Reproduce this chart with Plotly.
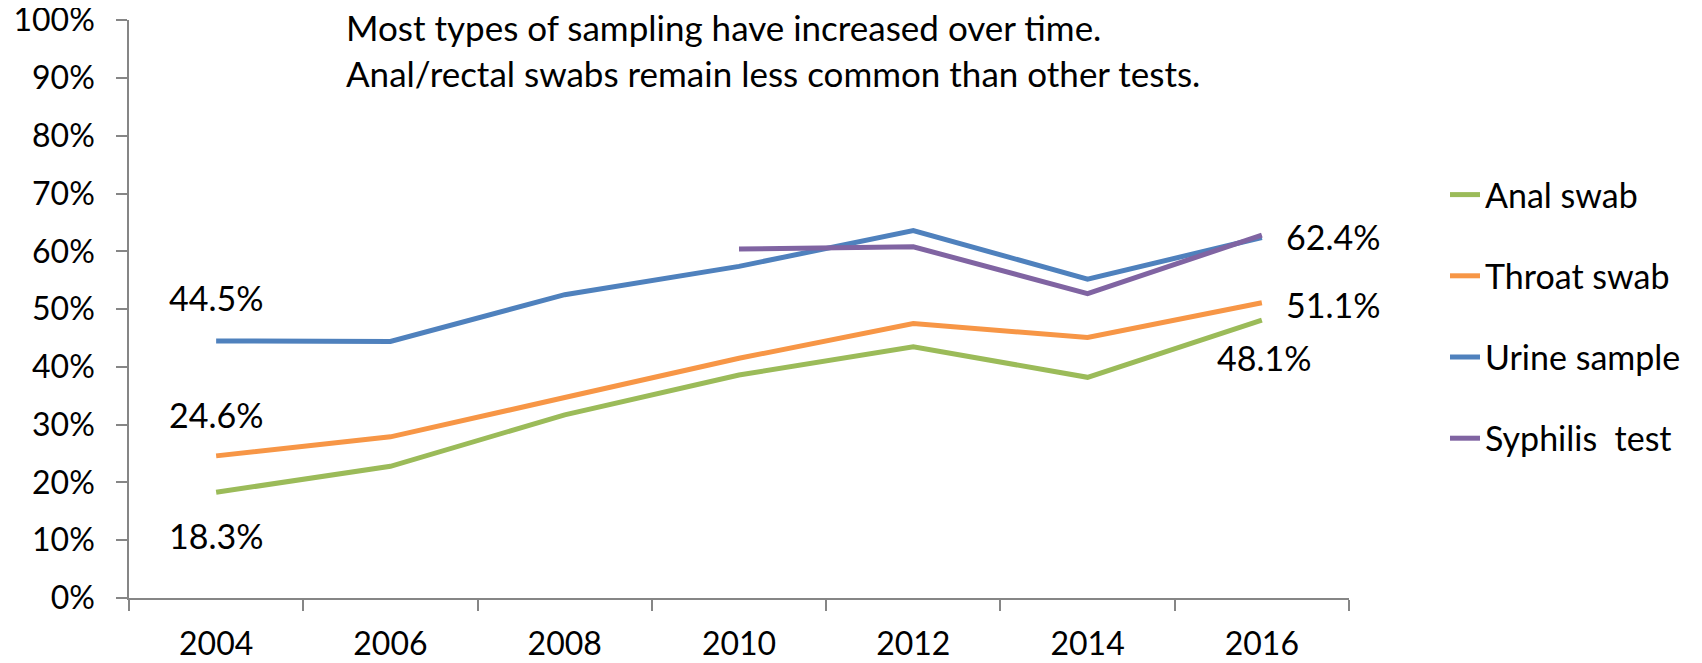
import plotly.graph_objects as go

years = ["2004", "2006", "2008", "2010", "2012", "2014", "2016"]
anal_swab = [0.183, 0.228, 0.317, 0.386, 0.435, 0.382, 0.481]
throat_swab = [0.246, 0.279, 0.347, 0.415, 0.475, 0.451, 0.511]
urine_sample = [0.445, 0.444, 0.525, 0.574, 0.636, 0.552, 0.624]
syphilis_test = [None, None, None, 0.604, 0.608, 0.527, 0.628]

series_names = ["Anal swab", "Throat swab", "Urine sample", "Syphilis\u00a0 test"]
series_values = [anal_swab, throat_swab, urine_sample, syphilis_test]
series_colors = ["#9BBB59", "#F79646", "#4F81BD", "#8064A2"]

note_lines = ["Most types of sampling have increased over time.",
              "Anal/rectal swabs remain less common than other tests."]

FONT = "Lato"
FS = 34
TICK_FS = 32
W, H = 1694, 655  # page body has an 8px margin

fig = go.Figure()
for i, (name, vals, col) in enumerate(zip(series_names, series_values, series_colors)):
    fig.add_trace(go.Scatter(
        x=years, y=vals, name=name, mode="lines",
        line=dict(color=col, width=5),
        legendgroup="g%d" % i,
        connectgaps=False,
        hoverinfo="skip",
    ))

# data labels: (series values, index, xshift, yshift, xanchor)
label_specs = [
    (urine_sample, 0, 0, 43, "center"),
    (throat_swab, 0, 0, 41, "center"),
    (anal_swab, 0, 0, -43, "center"),
    (urine_sample, 6, 22, 1, "left"),
    (throat_swab, 6, 22, -2, "left"),
    (anal_swab, 6, 2, -37, "center"),
]
for vals, idx, xs, ys, xa in label_specs:
    fig.add_annotation(
        x=idx, y=vals[idx], text="%.1f%%" % (vals[idx] * 100),
        showarrow=False, xshift=xs, yshift=ys, xanchor=xa, yanchor="middle",
        font=dict(family=FONT, size=FS, color="#000000"),
    )

fig.add_annotation(
    xref="paper", yref="paper", x=(344 - 129) / 1220, y=1.0,
    xanchor="left", yanchor="top", align="left", showarrow=False,
    text="<br>".join(note_lines),
    font=dict(family=FONT, size=35, color="#000000"),
    yshift=16,
)

fig.update_layout(
    width=W, height=H,
    margin=dict(l=121, r=353, t=12, b=65, autoexpand=False),
    paper_bgcolor="white", plot_bgcolor="white",
    font=dict(family=FONT, size=FS, color="#000000"),
    showlegend=True,
    legend=dict(
        xref="container", yref="container",
        x=1437 / W, y=1 - 158 / H, xanchor="left", yanchor="top",
        traceorder="grouped", tracegroupgap=34,
        font=dict(family=FONT, size=FS, color="#000000"),
        bgcolor="rgba(0,0,0,0)",
    ),
    xaxis=dict(
        type="category", range=[-0.5, 6.5], tickson="boundaries", ticks="outside",
        ticklen=11, tickcolor="#868686", tickwidth=1.5, showline=True,
        linecolor="#868686", linewidth=1.5, showgrid=False, zeroline=False,
        ticklabelstandoff=17, tickangle=0, ticklabeloverflow="allow",
        tickfont=dict(family=FONT, size=TICK_FS, color="#000000"),
    ),
    yaxis=dict(
        range=[0, 1.0005], tickvals=[i / 10 for i in range(11)], tickformat=".0%",
        ticks="outside", ticklen=11, ticklabeloverflow="allow",
        tickcolor="#868686", tickwidth=1.5, showline=True, linecolor="#868686",
        linewidth=1.5, showgrid=False, zeroline=False, ticklabelstandoff=15,
        tickfont=dict(family=FONT, size=TICK_FS, color="#000000"),
    ),
)

fig.write_html("out.html")
